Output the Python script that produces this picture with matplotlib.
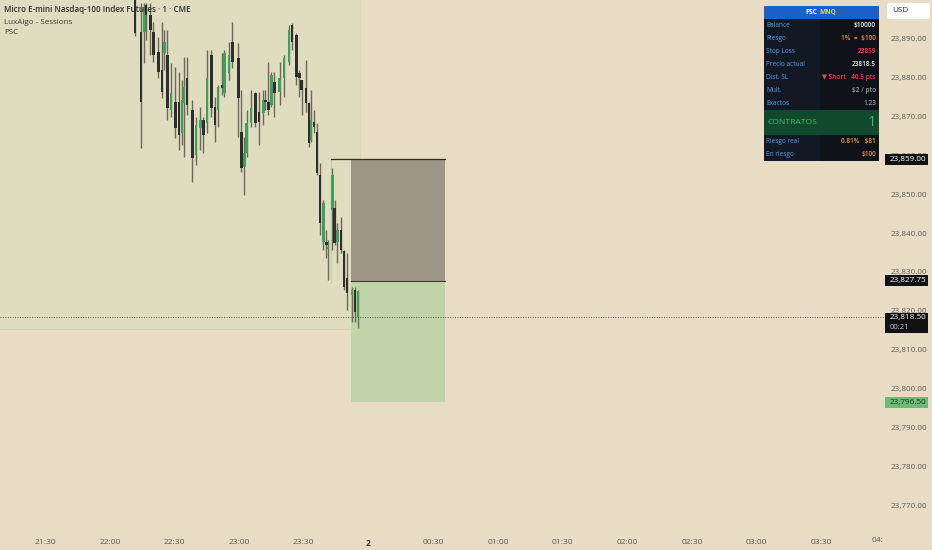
import matplotlib
matplotlib.use('Agg')
from matplotlib import pyplot as plt
from matplotlib.patches import Rectangle, FancyBboxPatch

plt.rcParams['font.family'] = ['Open Sans', 'DejaVu Sans']

# candles: minutes after 21:30, open, high, low, close
candle_t = [41.7, 44.5, 45.9, 46.8, 48.7, 50.1, 52.4, 54.2, 55.2, 56.6, 58.4, 60.3, 62.1, 63.5, 64.4, 65.8,
            68.2, 70.0, 71.9, 73.3, 75.1, 77.0, 78.8, 80.2, 82.1, 83.0, 85.3, 86.7, 89.5, 90.9, 92.3, 93.6,
            95.5, 97.4, 99.2, 101.1, 102.0, 103.4, 104.8, 106.2, 108.9, 110.8, 113.1, 114.5, 116.4, 117.8,
            119.1, 121.0, 122.4, 123.3, 124.7, 126.1, 127.5, 128.9, 130.3, 131.2, 133.1, 134.4, 135.4,
            137.2, 138.6, 140.0, 142.3, 143.7, 145.1]
candle_h = [23902.6, 23899.2, 23899.2, 23899.2, 23899.2, 23894.3, 23890.5, 23894.3, 23892.3, 23892.3, 23883.8, 23882.8, 23881.5, 23879.4, 23885.3, 23885.3,
            23874.3, 23869.9, 23872.5, 23869.9, 23887.1, 23887.1, 23875.0, 23878.1, 23886.4, 23887.1, 23889.2, 23894.3, 23888.9, 23876.8, 23864.7, 23871.7,
            23876.8, 23876.3, 23876.3, 23876.8, 23876.8, 23884.0, 23881.5, 23881.5, 23884.0, 23885.8, 23893.6, 23894.1, 23891.5, 23882.0,
            23879.4, 23884.6, 23873.7, 23876.8, 23871.7, 23868.3, 23858.0, 23848.5, 23840.8, 23838.2, 23856.8, 23848.5, 23842.6,
            23844.1, 23835.6, 23834.9, 23826.1, 23826.1, 23825.4]
candle_top = [23901.3, 23891.8, 23898.2, 23898.7, 23896.1, 23891.8, 23886.6, 23882.0, 23889.2, 23885.8, 23876.1, 23873.7, 23873.7, 23874.3, 23877.6, 23879.9,
              23871.7, 23867.8, 23869.1, 23869.1, 23879.9, 23885.8, 23872.5, 23877.6, 23878.1, 23886.4, 23885.8, 23889.2, 23885.1, 23866.0, 23860.6, 23868.3,
              23872.2, 23876.1, 23871.2, 23874.3, 23874.3, 23873.7, 23880.7, 23878.9, 23879.9, 23885.1, 23892.3, 23893.6, 23891.0, 23881.2,
              23879.4, 23877.3, 23873.5, 23869.1, 23868.6, 23866.0, 23855.0, 23847.7, 23837.7, 23836.4, 23855.0, 23846.5, 23840.8,
              23840.8, 23835.4, 23828.4, 23825.4, 23825.4, 23825.1]
candle_bot = [23891.5, 23873.7, 23891.8, 23896.1, 23892.3, 23885.8, 23881.5, 23876.3, 23886.4, 23872.2, 23871.7, 23867.0, 23865.3, 23865.8, 23873.5, 23873.0,
              23859.3, 23860.1, 23867.0, 23865.3, 23868.3, 23872.2, 23867.8, 23871.7, 23877.3, 23876.1, 23881.2, 23884.0, 23874.8, 23856.8, 23857.0, 23860.6,
              23868.3, 23868.3, 23868.6, 23870.9, 23873.7, 23871.7, 23873.0, 23876.1, 23876.3, 23879.9, 23884.0, 23889.2, 23880.2, 23879.9,
              23876.8, 23873.5, 23863.2, 23864.0, 23867.3, 23855.5, 23842.6, 23837.7, 23836.9, 23835.9, 23845.9, 23837.5, 23837.7,
              23835.6, 23826.1, 23824.6, 23824.1, 23819.7, 23818.5]
candle_l = [23890.7, 23861.9, 23883.8, 23889.7, 23885.8, 23884.0, 23879.9, 23874.8, 23882.0, 23869.1, 23869.9, 23864.5, 23861.4, 23862.7, 23859.6, 23870.4,
            23853.2, 23857.5, 23861.4, 23860.6, 23865.8, 23869.9, 23863.4, 23867.3, 23875.5, 23875.0, 23879.4, 23882.5, 23864.7, 23855.7, 23849.8, 23859.6,
            23867.3, 23867.3, 23862.7, 23867.8, 23871.7, 23870.4, 23872.5, 23869.9, 23873.0, 23875.0, 23883.3, 23887.1, 23878.1, 23875.0,
            23870.4, 23871.2, 23862.2, 23863.4, 23865.8, 23855.0, 23839.5, 23835.6, 23833.6, 23827.9, 23835.6, 23836.9, 23832.3,
            23834.9, 23825.4, 23820.2, 23817.1, 23817.1, 23815.6]
candle_up = [0, 0, 1, 0, 0, 0, 0, 0, 1, 0, 1, 0, 0, 1, 1, 0,
             0, 1, 1, 0, 1, 0, 0, 1, 0, 1, 1, 0, 0, 0, 1, 1,
             1, 0, 0, 1, 0, 0, 1, 0, 1, 1, 1, 0, 0, 0,
             0, 0, 0, 1, 0, 0, 0, 1, 0, 1, 1, 0, 1,
             0, 0, 0, 1, 0, 1]

price_ticks = [23890, 23880, 23870, 23860, 23850, 23840, 23830, 23820, 23810, 23800, 23790, 23780, 23770]
time_ticks = [0, 30, 60, 90, 120, 150, 180, 210, 240, 270, 300, 330, 360]
time_labels = ['21:30', '22:00', '22:30', '23:00', '23:30', '2', '00:30', '01:00', '01:30', '02:00', '02:30', '03:00', '03:30']

stop_price = 23859.0
entry_price = 23827.75
target_price = 23796.5
last_price = 23818.5
session_end_t = 146.0
session_low = 23815.3
pos_start_t = 141.9
pos_line_t = 132.6
pos_end_t = 185.4

table_rows = [('Balance', '$10000', '#f2f2f2'),
              ('Riesgo', '1%  =  $100', '#f0923c'),
              ('Stop Loss', '23859', '#e8455a'),
              ('Precio actual', '23818.5', '#f2f2f2'),
              ('Dist. SL', '▼ Short   40.5 pts', '#e8455a'),
              ('Mult.', '$2 / pto', '#9aa0a8'),
              ('Exactos', '1.23', '#9aa0a8')]
table_rows2 = [('Riesgo real', '0.81%   $81', '#e8a33c'),
               ('En riesgo', '$100', '#f0923c')]

BG = '#e8dcc4'
W, H = 932, 550


def fx(px):
    return px / W


def fy(py):
    return 1 - py / H


fig = plt.figure(figsize=(9.32, 5.5), dpi=100, facecolor=BG)
ax = fig.add_axes([0, fy(527), fx(884), 527 / H], facecolor=BG)
ax.set_xlim(-20.9, 389.0)
ax.set_ylim(23900 - 527 / 3.885, 23900)
for s in ax.spines.values():
    s.set_visible(False)

# session box
ax.add_patch(Rectangle((-20.9, session_low), session_end_t + 20.9, 23900 - session_low,
                       facecolor='#dfdcbf', edgecolor='none', zorder=1))
ax.plot([-20.9, session_end_t], [session_low, session_low], color='#d3d0b4', lw=0.8, zorder=1.5)
ax.plot([session_end_t, session_end_t], [session_low, 23900], color='#d8d5b8', lw=0.8, zorder=1.5)

# long/short position
ax.add_patch(Rectangle((pos_start_t, entry_price), pos_end_t - pos_start_t, stop_price - entry_price,
                       facecolor='#9e9585', edgecolor='none', zorder=2))
ax.add_patch(Rectangle((pos_start_t, target_price), pos_end_t - pos_start_t, entry_price - target_price,
                       facecolor='#c2d3a9', edgecolor='none', zorder=2))
ax.plot([pos_line_t, pos_end_t], [stop_price, stop_price], color='#2c2c28', lw=0.9, zorder=3)
ax.plot([pos_start_t, pos_end_t], [entry_price, entry_price], color='#3a3f30', lw=0.8, zorder=3)
ax.plot([pos_line_t, pos_line_t], [stop_price, session_low + 12], color='#c5cfa8', lw=0.8, zorder=2)

# candles
ax.vlines(candle_t, candle_l, candle_h, color='#6a6a5a', lw=1.0, zorder=4)
for t, top, bot, up in zip(candle_t, candle_top, candle_bot, candle_up):
    ax.bar(t, top - bot, bottom=bot, width=1.35, color='#3f9f5e' if up else '#2e2e2a', zorder=5)

# last price line
ax.axhline(last_price, color='#55554a', lw=0.7, ls=(0, (1, 1.5)), zorder=6)

# axes text
ax.set_yticks(price_ticks)
ax.set_yticklabels([f'{p:,.2f}' for p in price_ticks], fontsize=5.9, color='#5a5a52')
ax.yaxis.tick_right()
ax.tick_params(axis='y', length=0, pad=4.5)
ax.set_xticks(time_ticks)
ax.set_xticklabels(time_labels, fontsize=6.1, color='#5a5a52')
ax.tick_params(axis='x', length=0, pad=9)
ax.get_xticklabels()[5].set_fontweight('bold')
ax.get_xticklabels()[5].set_color('#333330')
fig.text(fx(884), fy(540), '04:', fontsize=6.1, color='#5a5a52', ha='right', va='center')

# legend text
fig.text(fx(4), fy(9), 'Micro E-mini Nasdaq-100 Index Futures · 1 · CME', fontsize=5.8,
         color='#2e2e2a', weight='semibold', va='center', zorder=10)
fig.text(fx(4), fy(22), 'LuxAlgo - Sessions', fontsize=5.8, color='#3a3a34', va='center', zorder=10)
fig.text(fx(4), fy(33), 'PSC', fontsize=5.8, color='#3a3a34', va='center', zorder=10)

# price tags
tags = [(stop_price, '#111116', '#ffffff', '23,859.00'),
        (entry_price, '#111116', '#ffffff', '23,827.75'),
        (target_price, '#6cbb74', '#1c3a20', '23,796.50')]
for price, face, col, label in tags:
    y = (23900 - price) * 3.885
    fig.patches.append(Rectangle((fx(885), fy(y + 5.5)), fx(43), 11 / H, transform=fig.transFigure,
                                 facecolor=face, edgecolor='none', zorder=8))
    fig.text(fx(907.5), fy(y), label, fontsize=5.9, color=col, ha='center', va='center', zorder=9)
fig.patches.append(Rectangle((fx(885), fy(333)), fx(43), 20 / H, transform=fig.transFigure,
                             facecolor='#111116', edgecolor='none', zorder=8))
fig.text(fx(907.5), fy(318), '23,818.50', fontsize=5.9, color='#ffffff', ha='center', va='center', zorder=9)
fig.text(fx(890), fy(327.5), '00:21', fontsize=5.6, color='#c8c8c8', ha='left', va='center', zorder=9)

# USD button
fig.patches.append(FancyBboxPatch((fx(890), fy(17.5)), fx(37), 13 / H, transform=fig.transFigure,
                                  boxstyle='round,pad=0.003', facecolor='#ffffff', edgecolor='none', zorder=8))
fig.text(fx(900), fy(11), 'USD', fontsize=5.9, color='#333333', ha='center', va='center', zorder=9)

# risk table
TX0, TX1, TXM = 764, 879, 820


def band(y0, y1, col, x0=TX0, x1=TX1):
    fig.patches.append(Rectangle((fx(x0), fy(y1)), fx(x1 - x0), (y1 - y0) / H, transform=fig.transFigure,
                                 facecolor=col, edgecolor='none', zorder=8))


def row(y0, label, value, col):
    band(y0, y0 + 13, '#121824', TX0, TXM)
    band(y0, y0 + 13, '#0f1218', TXM, TX1)
    band(y0 + 12.5, y0 + 13, '#2a2f3a')
    fig.text(fx(766), fy(y0 + 6.5), label, fontsize=4.7, color='#5a9fe6', va='center', zorder=9)
    fig.text(fx(876), fy(y0 + 6.5), value, fontsize=4.7, color=col, ha='right', va='center', weight='semibold', zorder=9)


band(6, 19, '#1b5fc9')
fig.text(fx(811), fy(12.5), 'PSC', fontsize=4.7, color='#ffffff', ha='center', va='center', weight='bold', zorder=9)
fig.text(fx(828), fy(12.5), 'MNQ', fontsize=4.7, color='#d8e04a', ha='center', va='center', weight='bold', zorder=9)
for i, (label, value, col) in enumerate(table_rows):
    row(19 + 13 * i, label, value, col)
band(110, 135, '#0f4a2c')
fig.text(fx(767), fy(122.5), 'CONTRATOS', fontsize=6.1, color='#3fbf6a', va='center', zorder=9)
fig.text(fx(876), fy(123), '1', fontsize=10.5, color='#3fbf6a', ha='right', va='center', zorder=9)
for i, (label, value, col) in enumerate(table_rows2):
    row(135 + 13 * i, label, value, col)

plt.savefig('out.png', dpi=100, facecolor=BG)
